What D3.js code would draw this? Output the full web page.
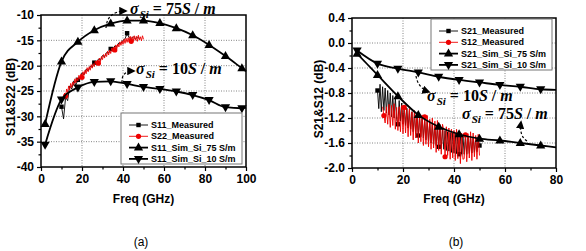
<!DOCTYPE html>
<html>
<head>
<meta charset="utf-8">
<script src="https://cdn.jsdelivr.net/npm/d3@7"></script>
<style>
  body { margin: 0; background: #fff; }
  text { font-family: "Liberation Sans", Arial, sans-serif; }
  text.sigma { font-family: "Liberation Serif", "Times New Roman", serif; }
</style>
</head>
<body>
<svg id="chart" width="586" height="251"></svg>
<script>
// ---- data, panel (a): return loss ----
var simFreqA = [2, 10, 18, 26, 34, 42, 50, 58, 66, 74, 82, 90, 98, 100];
var s11Sim75 = [-31.5, -19.2, -15.3, -13.0, -11.7, -11.1, -11.1, -11.6, -12.6, -14.0, -15.9, -18.1, -20.5, -21.1];
var s11Sim10 = [-35.6, -26.7, -24.3, -23.2, -23.1, -23.6, -24.2, -24.6, -25.1, -25.8, -26.8, -28.2, -28.4, -28.3];

// measured sweeps (start / step in GHz)
var s11MeasStart = 10, s11MeasStep = 1;
var s11Meas = [-28.1, -30.5, -26.2, -26.9, -24.0, -24.6, -23.0, -23.8, -22.8, -22.5,
  -21.4, -21.8, -20.7, -21.0, -20.1, -20.3, -19.4, -19.6, -18.7, -18.9,
  -18.0, -18.2, -17.4, -17.5, -16.7, -16.9, -16.1, -16.2, -15.5, -15.6,
  -15.0, -14.7, -13.6, -14.5, -14.6, -14.3, -14.7, -14.4, -14.6];
var s22MeasStart = 11, s22MeasStep = 0.5;
var s22Meas = [-26.6, -25.4, -26.0, -24.6, -25.3, -24.0, -24.8, -23.5, -24.3, -23.2,
  -23.9, -22.6, -23.4, -22.4, -23.0, -21.9, -22.7, -21.6, -22.3, -21.2,
  -21.9, -20.9, -21.6, -20.4, -21.2, -20.2, -20.9, -19.8, -20.5, -19.6,
  -20.2, -19.1, -19.8, -18.9, -19.5, -18.5, -19.2, -18.2, -18.8, -17.8,
  -18.5, -17.6, -18.2, -17.1, -17.9, -16.9, -17.6, -16.5, -17.2, -16.3,
  -16.9, -15.9, -16.6, -15.7, -16.3, -15.3, -16.0, -15.1, -15.8, -14.8,
  -15.6, -14.6, -15.4, -14.5, -15.3, -14.2, -15.2, -14.3, -15.1, -14.1,
  -15.0, -14.2, -15.2, -14.0, -14.9, -14.3, -15.1, -14.1, -14.8];
var s11MarkFreq = [10, 18, 26, 34, 42];
var s22MarkFreq = [12, 20, 28, 36, 44];

// ---- data, panel (b): insertion loss ----
var simFreqB = [2, 10, 18, 26, 34, 42, 50, 58, 66, 74, 80];
var s21Sim75 = [-0.17, -0.51, -0.85, -1.15, -1.34, -1.46, -1.53, -1.56, -1.60, -1.64, -1.67];
var s21Sim10 = [-0.12, -0.33, -0.41, -0.47, -0.54, -0.59, -0.63, -0.67, -0.70, -0.74, -0.75];

var s21MeasStart = 10, s21MeasStep = 0.5;
var s21Meas = [-0.76, -1.05, -0.66, -1.10, -0.70, -1.08, -0.72, -1.12, -0.76, -1.15,
  -0.80, -1.18, -0.84, -1.20, -0.88, -1.22, -1.30, -0.92, -1.25, -0.96,
  -1.30, -1.00, -1.32, -1.04, -1.36, -1.08, -1.38, -1.10, -1.42, -1.12,
  -1.45, -1.15, -1.48, -1.18, -1.50, -1.20, -1.52, -1.22, -1.55, -1.25,
  -1.58, -1.27, -1.60, -1.30, -1.62, -1.32, -1.64, -1.34, -1.66, -1.36,
  -1.68, -1.38, -1.70, -1.40, -1.72, -1.42, -1.73, -1.43, -1.75, -1.44,
  -1.76, -1.45, -1.77, -1.46, -1.78, -1.47, -1.78, -1.48, -1.78, -1.49,
  -1.78, -1.50, -1.77, -1.50, -1.76, -1.51, -1.75, -1.52, -1.74, -1.55, -1.64];
var s12MeasStart = 12, s12MeasStep = 0.5;
var s12Meas = [-1.02, -1.16, -1.28, -1.02, -1.30, -0.98, -1.35, -1.00, -1.32, -0.97,
  -1.38, -1.03, -1.40, -1.02, -1.42, -1.00, -1.45, -1.03, -1.44, -1.06,
  -1.50, -1.05, -1.48, -1.10, -1.55, -1.08, -1.52, -1.12, -1.60, -1.14,
  -1.58, -1.15, -1.64, -1.18, -1.62, -1.16, -1.66, -1.22, -1.70, -1.20,
  -1.68, -1.25, -1.75, -1.24, -1.72, -1.30, -1.78, -1.30, -1.40, -1.82,
  -1.34, -1.80, -1.36, -1.86, -1.38, -1.84, -1.40, -1.88, -1.38, -1.85,
  -1.42, -1.93, -1.44, -1.86, -1.85, -1.47, -1.90, -1.45, -1.84, -1.42,
  -1.88, -1.44, -1.82, -1.48, -1.86, -1.46, -1.80];
var s21MarkFreq = [10, 18, 26, 34, 42, 50];
var s12MarkFreq = [12.5, 20.5, 28.5, 36.5, 44.5];

var legendA = ['S11_Measured', 'S22_Measured', 'S11_Sim_Si_75 S/m', 'S11_Sim_Si_10 S/m'];
var legendB = ['S21_Measured', 'S12_Measured', 'S21_Sim_Si_75 S/m', 'S21_Sim_Si_10 S/m'];
var sigmaValues = ['75', '10'];

// ---- helpers ----
var svg = d3.select('#chart');

function sweep(start, step, vals) {
  return vals.map(function(v, i) { return [start + i * step, v]; });
}
function zip(f, v) {
  return f.map(function(d, i) { return [d, v[i]]; });
}
function pick(series, freqs) {
  return series.filter(function(d) {
    return freqs.some(function(f) { return Math.abs(f - d[0]) < 1e-6; });
  });
}

var triUp = 'M0,-5L4.6,3L-4.6,3Z',
    triDown = 'M0,5L4.6,-3L-4.6,-3Z';

function marker(sel, kind, color) {
  if (kind === 'square') {
    sel.append('rect').attr('x', -2.2).attr('y', -2.2).attr('width', 4.4).attr('height', 4.4).attr('fill', color);
  } else if (kind === 'circle') {
    sel.append('circle').attr('r', 2.6).attr('fill', color);
  } else {
    sel.append('path').attr('d', kind === 'up' ? triUp : triDown).attr('fill', color);
  }
}

function drawPanel(p) {
  var x = d3.scaleLinear().domain(p.xDomain).range([p.left, p.right]);
  var y = d3.scaleLinear().domain(p.yDomain).range([p.bottom, p.top]);
  var g = svg.append('g');

  // dotted grid
  g.selectAll('.gx').data(p.xTicks.slice(1, -1)).enter().append('line')
    .attr('x1', function(d) { return x(d); }).attr('x2', function(d) { return x(d); })
    .attr('y1', p.top).attr('y2', p.bottom)
    .attr('stroke', '#666').attr('stroke-width', 0.8).attr('stroke-dasharray', '1,1.5');
  g.selectAll('.gy').data(p.yTicks.slice(1, -1)).enter().append('line')
    .attr('y1', function(d) { return y(d); }).attr('y2', function(d) { return y(d); })
    .attr('x1', p.left).attr('x2', p.right)
    .attr('stroke', '#666').attr('stroke-width', 0.8).attr('stroke-dasharray', '1,1.5');

  // axes: minor then major ticks
  var ax = g.append('g').attr('transform', 'translate(0,' + p.bottom + ')');
  ax.append('g').call(d3.axisBottom(x).tickValues(p.xMinor).tickSize(2.5).tickFormat(''));
  ax.append('g').call(d3.axisBottom(x).tickValues(p.xTicks).tickSize(4).tickPadding(3)
    .tickFormat(function(d) { return d; }));
  var ay = g.append('g').attr('transform', 'translate(' + p.left + ',0)');
  ay.append('g').call(d3.axisLeft(y).tickValues(p.yMinor).tickSize(2.5).tickFormat(''));
  ay.append('g').call(d3.axisLeft(y).tickValues(p.yTicks).tickSize(4).tickPadding(3)
    .tickFormat(p.yFormat));
  g.selectAll('.domain').remove();
  g.selectAll('.tick line').attr('stroke', '#000').attr('stroke-width', 1.2);
  g.selectAll('.tick text').attr('font-size', 12).attr('font-weight', 'bold').attr('fill', '#000');

  // frame
  g.append('rect').attr('x', p.left).attr('y', p.top)
    .attr('width', p.right - p.left).attr('height', p.bottom - p.top)
    .attr('fill', 'none').attr('stroke', '#000').attr('stroke-width', 1.5);

  // titles
  g.append('text').attr('x', (p.left + p.right) / 2).attr('y', 203)
    .attr('text-anchor', 'middle').attr('font-size', 12).attr('font-weight', 'bold').text('Freq (GHz)');
  g.append('text').attr('transform', 'translate(' + p.yTitleX + ',' + p.yTitleY + ') rotate(-90)')
    .attr('text-anchor', 'middle').attr('dy', '0.35em')
    .attr('font-size', 12).attr('font-weight', 'bold').text(p.yTitle);
  g.append('text').attr('x', p.capX).attr('y', 246)
    .attr('text-anchor', 'middle').attr('font-size', 12).text(p.caption);

  var smooth = d3.line().x(function(d) { return x(d[0]); }).y(function(d) { return y(d[1]); })
    .curve(d3.curveMonotoneX);
  var raw = d3.line().x(function(d) { return x(d[0]); }).y(function(d) { return y(d[1]); });

  // measured traces (black under red)
  p.measured.forEach(function(m) {
    g.append('path').attr('d', raw(m.data)).attr('fill', 'none')
      .attr('stroke', m.color).attr('stroke-width', 0.9);
    pick(m.data, m.marks).forEach(function(d) {
      var s = g.append('g').attr('transform', 'translate(' + x(d[0]) + ',' + y(d[1]) + ')');
      marker(s, m.kind, m.color);
    });
  });

  // simulated traces
  p.sim.forEach(function(s) {
    g.append('path').attr('d', smooth(s.data)).attr('fill', 'none')
      .attr('stroke', '#000').attr('stroke-width', 1.8);
    s.data.filter(function(d) { return (d[0] - 2) % 8 === 0; }).forEach(function(d) {
      var m = g.append('g').attr('transform', 'translate(' + x(d[0]) + ',' + y(d[1]) + ')');
      marker(m, s.kind, '#000');
    });
  });

  // legend
  var L = p.legend;
  var lg = g.append('g');
  lg.append('rect').attr('x', L.x).attr('y', L.y).attr('width', L.w).attr('height', L.h)
    .attr('fill', '#fff').attr('stroke', '#777').attr('stroke-width', 1);
  var kinds = [
    { kind: 'square', color: '#000', sw: 0.9 },
    { kind: 'circle', color: '#e00', sw: 0.9 },
    { kind: 'up', color: '#000', sw: 1.8 },
    { kind: 'down', color: '#000', sw: 1.8 }
  ];
  L.labels.forEach(function(t, i) {
    var ry = L.y + 12 + i * 11.3;
    lg.append('line').attr('x1', L.x + 8).attr('x2', L.x + 27).attr('y1', ry).attr('y2', ry)
      .attr('stroke', kinds[i].color).attr('stroke-width', kinds[i].sw);
    var m = lg.append('g').attr('transform', 'translate(' + (L.x + 17.5) + ',' + ry + ')');
    marker(m, kinds[i].kind, kinds[i].color);
    lg.append('text').attr('x', L.x + 30).attr('y', ry).attr('dy', '0.35em')
      .attr('font-size', 9).attr('font-weight', 'bold').text(t);
  });

  return { x: x, y: y };
}

// sigma_Si = xx S / m, Times-like bold italic
function sigmaLabel(x, y, val) {
  var t = svg.append('text').attr('class', 'sigma').attr('x', x).attr('y', y)
    .attr('font-weight', 'bold').attr('font-size', 16);
  t.append('tspan').attr('font-style', 'italic').text('\u03c3');
  t.append('tspan').attr('font-style', 'italic').attr('font-size', 11).attr('dy', 4).attr('dx', 1).text('Si');
  t.append('tspan').attr('dy', -4).attr('dx', 4).text('= ' + val);
  t.append('tspan').attr('font-style', 'italic').text('S');
  t.append('tspan').text(' / ');
  t.append('tspan').attr('font-style', 'italic').text('m');
}

var defs = svg.append('defs');
defs.append('marker').attr('id', 'ah').attr('viewBox', '0 0 10 10').attr('refX', 8).attr('refY', 5)
  .attr('markerWidth', 7).attr('markerHeight', 7).attr('orient', 'auto')
  .append('path').attr('d', 'M0,0L10,5L0,10Z').attr('fill', '#000');

function dashedArrow(d) {
  svg.append('path').attr('d', d).attr('fill', 'none').attr('stroke', '#000')
    .attr('stroke-width', 1.2).attr('stroke-dasharray', '2.5,2').attr('marker-end', 'url(#ah)');
}

// ---- panel (a) ----
drawPanel({
  left: 41, right: 246, top: 15, bottom: 167,
  xDomain: [0, 100], yDomain: [-40, -10],
  xTicks: [0, 20, 40, 60, 80, 100], xMinor: [10, 30, 50, 70, 90],
  yTicks: [-40, -35, -30, -25, -20, -15, -10],
  yMinor: [-37.5, -32.5, -27.5, -22.5, -17.5, -12.5],
  yFormat: function(d) { return d; },
  yTitle: 'S11&S22 (dB)', yTitleX: 11, yTitleY: 97,
  caption: '(a)', capX: 141,
  measured: [
    { data: sweep(s11MeasStart, s11MeasStep, s11Meas), color: '#000', kind: 'square', marks: s11MarkFreq },
    { data: sweep(s22MeasStart, s22MeasStep, s22Meas), color: '#e00', kind: 'circle', marks: s22MarkFreq }
  ],
  sim: [
    { data: zip(simFreqA, s11Sim75), kind: 'up' },
    { data: zip(simFreqA, s11Sim10), kind: 'down' }
  ],
  legend: { x: 121, y: 113, w: 121, h: 51, labels: legendA }
});

// ---- panel (b) ----
drawPanel({
  left: 352, right: 556, top: 18, bottom: 168,
  xDomain: [0, 80], yDomain: [-2.0, 0.4],
  xTicks: [0, 20, 40, 60, 80], xMinor: [10, 30, 50, 70],
  yTicks: [-2.0, -1.6, -1.2, -0.8, -0.4, 0.0, 0.4],
  yMinor: [-1.8, -1.4, -1.0, -0.6, -0.2, 0.2],
  yFormat: function(d) { return d.toFixed(1); },
  yTitle: 'S21&S12 (dB)', yTitleX: 319, yTitleY: 99,
  caption: '(b)', capX: 456,
  measured: [
    { data: sweep(s21MeasStart, s21MeasStep, s21Meas), color: '#000', kind: 'square', marks: s21MarkFreq },
    { data: sweep(s12MeasStart, s12MeasStep, s12Meas), color: '#e00', kind: 'circle', marks: s12MarkFreq }
  ],
  sim: [
    { data: zip(simFreqB, s21Sim75), kind: 'up' },
    { data: zip(simFreqB, s21Sim10), kind: 'down' }
  ],
  legend: { x: 431, y: 19, w: 121, h: 51, labels: legendB }
});

// ---- annotations ----
dashedArrow('M106,28Q107,11 126,11');
sigmaLabel(130, 14, sigmaValues[0]);
dashedArrow('M122,83Q121,71 134,71');
sigmaLabel(136, 74, sigmaValues[1]);

dashedArrow('M416,76Q418,88 429,92');
sigmaLabel(427, 101, sigmaValues[1]);
dashedArrow('M527,141Q519,136 521,122');
sigmaLabel(462, 119, sigmaValues[0]);
</script>
</body>
</html>
